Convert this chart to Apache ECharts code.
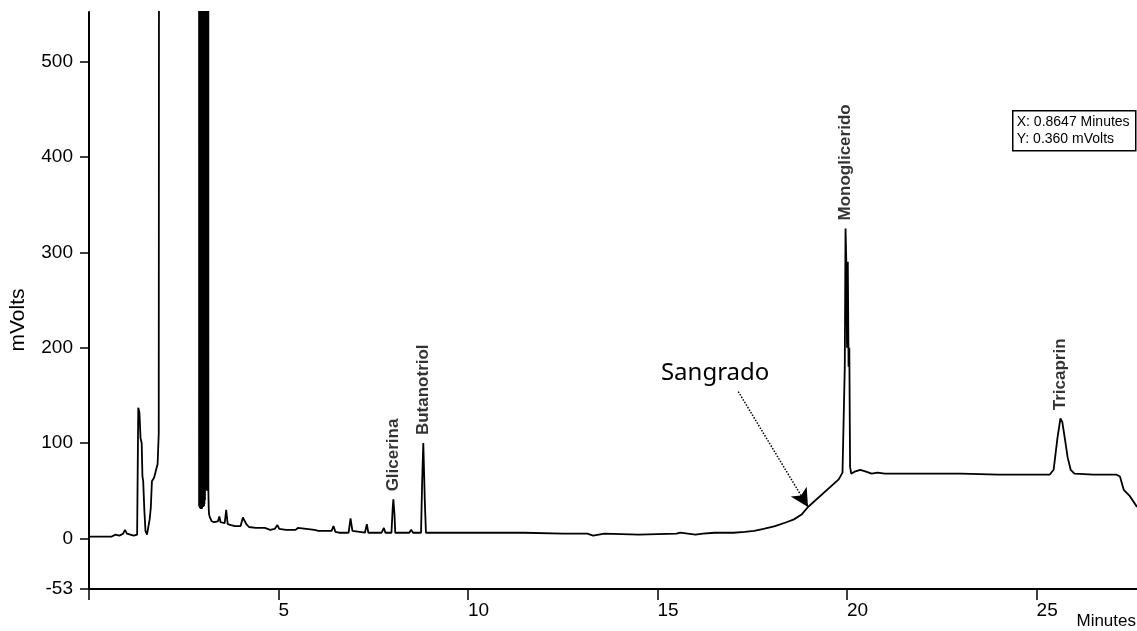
<!DOCTYPE html>
<html>
<head>
<meta charset="utf-8">
<script src="https://cdn.jsdelivr.net/npm/echarts@6/dist/echarts.min.js"></script>
<style>
html,body{margin:0;padding:0;background:#fff;}
#chart{width:1137px;height:631px;}
</style>
</head>
<body>
<div id="chart"></div>
<script>
// Retention time (minutes)
const times = [
  0.00,0.60,0.65,0.70,0.75,0.80,0.90,0.95,1.00,1.05,1.18,1.22,1.27,
  1.28,1.30,1.33,1.36,1.39,1.41,1.43,1.46,1.49,1.53,1.57,1.60,1.63,1.66,1.72,1.77,1.81,1.84,1.87,
  2.50,2.900,2.905,2.910,2.915,2.920,2.925,2.930,2.935,2.940,2.945,2.950,2.955,2.960,2.965,2.970,
  2.975,2.980,2.985,2.990,2.995,3.000,3.005,3.010,3.015,3.020,3.025,3.030,3.035,3.040,3.045,3.050,
  3.060,3.070,3.080,3.085,3.090,3.095,3.100,3.105,3.110,3.115,3.120,3.125,3.130,3.135,3.140,3.145,
  3.150,3.160,3.170,3.190,3.24,3.30,
  3.40,3.44,3.47,3.58,3.62,3.64,3.66,3.75,3.85,4.00,4.06,4.10,4.15,4.22,4.40,4.64,4.78,4.90,4.97,5.02,
  5.20,5.45,5.51,5.56,5.95,6.00,6.05,6.40,6.45,6.50,6.60,6.85,6.90,6.95,7.00,7.28,7.33,7.37,
  7.72,7.78,7.82,7.98,8.01,8.03,8.06,8.08,8.45,8.50,8.55,8.76,8.79,8.82,8.84,8.86,8.89,
  10.0,11.5,12.5,13.15,13.2,13.3,13.35,13.6,13.65,14.5,15.5,15.6,15.8,16.0,16.2,16.5,17.0,17.3,
  17.55,17.8,18.1,18.4,18.6,18.8,18.97,19.78,19.88,
  19.91,19.94,19.96,19.98,20.00,20.02,20.04,20.06,20.08,20.11,20.2,20.35,20.5,20.65,20.8,21.0,
  22.0,23.0,24.0,25.0,25.35,25.45,25.55,25.63,25.68,25.75,25.82,25.9,26.0,26.5,27.1,27.2,27.3,27.45,27.65
];
// Detector signal (mVolts)
const signal = [
  2,2,3,4,3,3,5,9,5,3,3,4,4,
  50,137,132,105,100,65,60,30,8,4,5,20,32,60,64,72,78,110,2500,
  2500,2500,34,2500,33,2500,32,2500,33,2500,31,2500,32,2500,33,2500,
  31,2500,32,2500,33,2500,34,2500,33,2500,35,2500,34,2500,36,2500,
  40,2500,2500,303,2500,2500,52,2500,50,2500,50,2500,50,2500,50,2500,
  48,30,25,22,18,17,
  18,23,17,16,30,22,15,14,13,13,22,20,15,12,11,11,9,10,14,10,
  9,9,11,9,9,11,8,8,13,7,6,6,21,8,6,6,15,6,
  6,11,6,6,30,41,25,6,6,9,6,6,60,100,70,39,6,
  6,6,5,5,3,3,5,5,4,4,5,6,5,4,5,6,6,7,
  8,10,13,17,20,25,33,62,69,
  70,180,325,290,200,290,180,200,75,68,70,72,70,68,69,68,
  68,68,67,67,67,72,105,126,122,104,85,72,68,67,67,65,51,45,33
];
// Peak annotations
const peakNames = ['Glicerina','Butanotriol','Monoglicerido','Tricaprin'];
const peakTimes = [8.03, 8.82, 19.96, 25.63];
const peakValues = [41, 100, 325, 126];
// Axis ticks
const xTicks = [0,5,10,15,20,25];
const xLabels = [5,10,15,20,25];
const yTicks = [-53,0,100,200,300,400,500];

const lineData = times.map((t,i)=>[t, signal[i]]);
const peakData = peakTimes.map((t,i)=>({value:[t, peakValues[i]], name: peakNames[i]}));

const chart = echarts.init(document.getElementById('chart'), null, {renderer:'canvas'});
const FONT = 'Liberation Sans, Arial, sans-serif';
chart.setOption({
  animation:false,
  backgroundColor:'#ffffff',
  grid:{left:89, right:0, top:12, bottom:42, containLabel:false, outerBoundsMode:'none'},
  xAxis:{
    type:'value', min:0, max:27.65,
    axisLine:{show:true, onZero:false, lineStyle:{color:'#000', width:2}},
    axisTick:{show:true, customValues:xTicks, length:11, lineStyle:{color:'#000', width:1.5}},
    axisLabel:{show:true, customValues:xLabels, align:'left', verticalAlign:'top', margin:12,
      color:'#000', fontFamily:FONT, fontSize:19},
    splitLine:{show:false}
  },
  yAxis:{
    type:'value', min:-53, max:552,
    axisLine:{show:true, onZero:false, lineStyle:{color:'#000', width:2}},
    axisTick:{show:true, customValues:yTicks, length:9, lineStyle:{color:'#000', width:1.5}},
    axisLabel:{show:true, customValues:yTicks, margin:16, color:'#000', fontFamily:FONT, fontSize:19},
    splitLine:{show:false}
  },
  series:[
    {
      type:'line', data:lineData, showSymbol:false, symbol:'none', clip:true, silent:true,
      lineStyle:{color:'#000', width:1.8},
      markLine:{
        silent:true, animation:false,
        symbol:['none','arrow'], symbolSize:[14,18],
        lineStyle:{color:'#000', type:'dotted', width:1.5},
        label:{show:false},
        data:[[{coord:[17.13,154]},{coord:[18.97,33]}]]
      },
      markPoint:{
        silent:true, animation:false,
        symbol:'circle', symbolSize:0,
        data:[{coord:[15.09,161], value:'Sangrado'}],
        label:{show:true, position:[0,0], align:'left', verticalAlign:'bottom',
          formatter:'Sangrado', color:'#000', fontFamily:'Noto Sans, sans-serif', fontSize:24}
      }
    },
    {
      type:'scatter', data:peakData, symbolSize:0, silent:true,
      label:{show:true, position:'top', distance:8, rotate:90, align:'left', verticalAlign:'middle',
        formatter:(p)=>p.name, color:'#000', fontFamily:FONT, fontWeight:'bold', fontSize:17}
    }
  ],
  graphic:[
    {
      type:'text', x:18, y:320, rotation:Math.PI/2,
      style:{text:'mVolts', fill:'#000', font:'21px Liberation Sans, Arial, sans-serif',
        textAlign:'center', textVerticalAlign:'middle'}
    },
    {
      type:'group', left:1012, top:110,
      children:[
        {type:'rect', shape:{x:0,y:0,width:123,height:40}, style:{fill:'#fff', stroke:'#000', lineWidth:1.5}},
        {type:'text', x:4, y:4, style:{text:'X: 0.8647 Minutes', fill:'#000', font:'14px Liberation Sans, Arial, sans-serif'}},
        {type:'text', x:4, y:21, style:{text:'Y: 0.360 mVolts', fill:'#000', font:'14px Liberation Sans, Arial, sans-serif'}}
      ]
    },
    {
      type:'text', right:1, bottom:1,
      style:{text:'Minutes', fill:'#000', font:'17px Liberation Sans, Arial, sans-serif'}
    }
  ]
});
</script>
</body>
</html>
